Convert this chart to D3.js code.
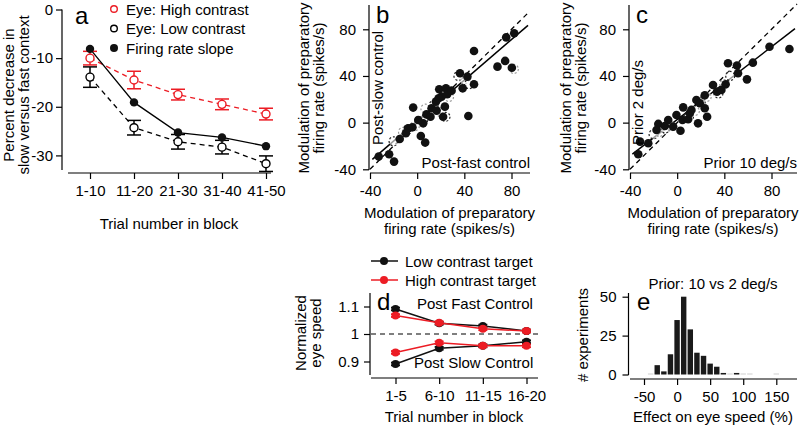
<!DOCTYPE html>
<html><head><meta charset="utf-8">
<script src="https://cdn.jsdelivr.net/npm/d3@7"></script>
<style>body{margin:0;background:#fff}svg{display:block}</style>
</head><body><svg id="c" width="800" height="428"></svg>
<script>
// ---------- DATA ----------
// Panel a
const aCats = ["1-10","11-20","21-30","31-40","41-50"];
const aHigh = [-10, -14.5, -17.5, -19.5, -21.5];
const aHighErr = [1.4, 1.8, 1.1, 1.1, 1.2];
const aLow = [-13.9, -24.3, -27.2, -28.3, -31.7];
const aLowErr = [2.1, 1.5, 1.5, 1.4, 1.6];
const aRate = [-8.1, -19.1, -25.3, -26.3, -28.1];
const aYTicks = [0, -10, -20, -30];
// Panel b
const bX = [-32.6,-23.8,-19.6,-14.8,-9.6,-4,-3.4,3.1,6.8,5.1,7.9,12.2,15.9,18.7,20.7,24.4,25.5,23.5,22,29.2,36.3,38.6,42.6,43.4,48.2,48.2,68.1,74.6,75.5,82.3,80.3,16.5,11.3,0.9,-7.7,18.2];
const bY = [-29.1,-27.1,-33.4,-14,-9.1,-4,12.9,-11.4,-17.1,-0.6,7.1,12.3,18,28.6,22.3,29.4,24.3,13.7,5,27.4,42.3,29.4,39.4,5.7,61.4,32.9,48,52.9,73.1,76.6,47.1,10.3,5.1,2.3,-4.9,20.9];
const bOpenX = [-20,-12,-8,-2,5,7,14,20,24,27,35,40,44,82];
const bOpenY = [-16,-8,-6,-3,2,12,15,9,5,22,40,37,33,46];
const bFit = [1.6, 0.87]; // intercept, slope
// Panel c
const cX = [-33,-31.5,-24.5,-16,-17.5,-10.4,-3.4,2.8,4.5,5.1,9.3,10.7,12.1,16.3,17.7,19.2,23.4,23.4,25.4,30.4,33.8,37.5,41.1,43.1,50.7,51.6,59.2,64.2,78.3,95.2,-0.6,-7.6];
const cY = [-27.1,-16.3,-17.7,-1.1,-6.3,-2.9,-3.4,-6.9,2.3,13.1,2.9,8,10.9,19.4,-0.6,16.6,12.3,23.4,5.1,32.3,26.6,28,32.9,50.9,48.9,42.3,37.1,51.4,65.1,63.1,6.6,2.3];
const cOpenX = [-20,-15,-10,-5,10,15,20,25,35,40,45];
const cOpenY = [-10,-8,-5,-3,5,10,18,22,25,33,40];
const cFit = [2.6, 0.78];
const scTicks = [-40, 0, 40, 80];
// Panel d
const dCats = ["1-5","6-10","11-15","16-20"];
const dLowFast = [1.091, 1.039, 1.029, 1.011];
const dHighFast = [1.067, 1.041, 1.019, 1.011];
const dLowSlow = [0.891, 0.948, 0.957, 0.972];
const dHighSlow = [0.933, 0.968, 0.957, 0.957];
const dErr = [0.005, 0.005, 0.005, 0.005];
const dYTicks = [0.9, 1, 1.1];
// Panel e
const eBins = [-40,-30,-20,-10,0,10,20,30,40,50,60,70,80,90,100,110,150];
const eCounts = [0,6,2,13,35,50,29,14,12,7,5,1,0,1,0,0,0];
const eXTicks = [-50, 0, 50, 100, 150];
const eYTicks = [0, 25, 50];

// ---------- DRAW ----------
const FONT = '"Liberation Sans", Arial, Helvetica, sans-serif';
const RED = "#ec1c24";
const svg = d3.select("#c").attr("font-family", FONT);
const fmt = d => String(d);

function leftAxis(scale, ticks, x, top, bottom, pad, f) {
  const g = svg.append("g").attr("transform", `translate(${x},0)`)
    .call(d3.axisLeft(scale).tickValues(ticks).tickSize(6).tickPadding(pad).tickFormat(f || fmt));
  g.select(".domain").remove();
  g.append("line").attr("y1", top).attr("y2", bottom).attr("stroke", "#000").attr("stroke-width", 1.2);
  g.attr("font-size", 15).attr("font-family", FONT);
  g.selectAll(".tick line").attr("stroke-width", 1.2);
  g.selectAll(".tick text").attr("fill", "#000");
  return g;
}
function bottomAxis(scale, ticks, y, left, right, pad, f) {
  const ax = d3.axisBottom(scale).tickSize(6).tickPadding(pad).tickFormat(f || fmt);
  if (ticks) ax.tickValues(ticks);
  const g = svg.append("g").attr("transform", `translate(0,${y})`).call(ax);
  g.select(".domain").remove();
  g.append("line").attr("x1", left).attr("x2", right).attr("stroke", "#000").attr("stroke-width", 1.2);
  g.attr("font-size", 15).attr("font-family", FONT);
  g.selectAll(".tick line").attr("stroke-width", 1.2);
  g.selectAll(".tick text").attr("fill", "#000");
  return g;
}
function txt(x, y, s, opts = {}) {
  const t = svg.append("text").attr("x", x).attr("y", y).text(s)
    .attr("font-size", opts.size || 15).attr("text-anchor", opts.anchor || "start").attr("fill", "#000");
  if (opts.rot) t.attr("transform", `rotate(-90,${x},${y})`);
  return t;
}
function errBars(g, xs, ys, es, yscale, cap, color, sw) {
  xs.forEach((x, i) => {
    const y1 = yscale(ys[i] + es[i]), y2 = yscale(ys[i] - es[i]);
    g.append("line").attr("x1", x).attr("x2", x).attr("y1", y1).attr("y2", y2).attr("stroke", color).attr("stroke-width", sw);
    g.append("line").attr("x1", x - cap).attr("x2", x + cap).attr("y1", y1).attr("y2", y1).attr("stroke", color).attr("stroke-width", sw);
    g.append("line").attr("x1", x - cap).attr("x2", x + cap).attr("y1", y2).attr("y2", y2).attr("stroke", color).attr("stroke-width", sw);
  });
}

// ===== Panel a =====
{
  const x = d3.scalePoint(aCats, [90, 266]);
  const y = d3.scaleLinear([-33, 0], [170, 9.5]);
  leftAxis(y, aYTicks, 62, 9.5, 170, 3);
  bottomAxis(x, null, 173, 68, 271, 6);
  const g = svg.append("g");
  const xs = aCats.map(c => x(c));
  const line = d3.line().x((d, i) => xs[i]).y(d => y(d));
  g.append("path").attr("d", line(aHigh)).attr("fill", "none").attr("stroke", RED).attr("stroke-width", 1.3).attr("stroke-dasharray", "5,4");
  g.append("path").attr("d", line(aLow)).attr("fill", "none").attr("stroke", "#000").attr("stroke-width", 1.3).attr("stroke-dasharray", "5,4");
  g.append("path").attr("d", line(aRate)).attr("fill", "none").attr("stroke", "#000").attr("stroke-width", 1.3);
  errBars(g, xs, aHigh, aHighErr, y, 7, RED, 1.5);
  errBars(g, xs, aLow, aLowErr, y, 7, "#000", 1.5);
  g.selectAll(".hi").data(aHigh).join("circle").attr("cx", (d, i) => xs[i]).attr("cy", d => y(d)).attr("r", 4)
    .attr("fill", "#fff").attr("stroke", RED).attr("stroke-width", 1.4);
  g.selectAll(".lo").data(aLow).join("circle").attr("cx", (d, i) => xs[i]).attr("cy", d => y(d)).attr("r", 4)
    .attr("fill", "#fff").attr("stroke", "#000").attr("stroke-width", 1.4);
  g.selectAll(".fr").data(aRate).join("circle").attr("cx", (d, i) => xs[i]).attr("cy", d => y(d)).attr("r", 4.2)
    .attr("fill", "#111");
  const lg = [["Eye: High contrast", "open", RED], ["Eye: Low contrast", "open", "#000"], ["Firing rate slope", "fill", "#111"]];
  lg.forEach((l, i) => {
    const yy = 9 + i * 19.5;
    svg.append("circle").attr("cx", 114).attr("cy", yy).attr("r", l[1] === "open" ? 3.3 : 4)
      .attr("fill", l[1] === "open" ? "#fff" : l[2]).attr("stroke", l[1] === "open" ? l[2] : "none").attr("stroke-width", 1.4);
    txt(126, yy + 5.5, l[0]);
  });
  txt(75, 24, "a", {size: 24});
  txt(14, 95, "Percent decrease in", {rot: true, anchor: "middle"});
  txt(29, 95, "slow versus fast context", {rot: true, anchor: "middle"});
  txt(169, 229, "Trial number in block", {anchor: "middle"});
}

// ===== Scatter panels b, c =====
function scatter(x0, px, py, ox, oy, fit, letter, vlab, hlab, ylx, xEnd) {
  const x = d3.scaleLinear([-40, 80], [x0 + 1, x0 + 142.5]);
  const y = d3.scaleLinear([-40, 80], [169.3, 29.3]);
  leftAxis(y, scTicks, x0, 5, 170, 7);
  bottomAxis(x, scTicks, 173, x0 + 1, xEnd, 6);
  const g = svg.append("g");
  g.append("line").attr("x1", x(-40)).attr("y1", y(-40)).attr("x2", x(x.invert(xEnd))).attr("y2", y(x.invert(xEnd)))
    .attr("stroke", "#000").attr("stroke-width", 1.3).attr("stroke-dasharray", "5,4");
  const fx0 = -38, fx1 = x.invert(xEnd - 2);
  g.append("line").attr("x1", x(fx0)).attr("y1", y(fit[0] + fit[1] * fx0)).attr("x2", x(fx1)).attr("y2", y(fit[0] + fit[1] * fx1))
    .attr("stroke", "#000").attr("stroke-width", 1.5);
  g.selectAll(".o").data(ox).join("circle").attr("cx", d => x(d)).attr("cy", (d, i) => y(oy[i])).attr("r", 4.5)
    .attr("fill", "#fff").attr("fill-opacity", 0.6).attr("stroke", (d, i) => i % 2 ? "#999" : "#222").attr("stroke-width", 1.2)
    .attr("stroke-dasharray", "2,2");
  g.selectAll(".p").data(px).join("circle").attr("cx", d => x(d)).attr("cy", (d, i) => y(py[i])).attr("r", 4.3).attr("fill", "#111");
  txt(x0 + 7, 23, letter, {size: 24});
  txt(x0 + 14, 145, vlab, {rot: true});
  txt(xEnd, 168, hlab, {anchor: "end"});
  txt(ylx, 88, "Modulation of preparatory", {rot: true, anchor: "middle"});
  txt(ylx + 15, 88, "firing rate (spikes/s)", {rot: true, anchor: "middle"});
  const cx = (x0 + xEnd) / 2;
  txt(cx, 218, "Modulation of preparatory", {anchor: "middle"});
  txt(cx, 234, "firing rate (spikes/s)", {anchor: "middle"});
}
scatter(369, bX, bY, bOpenX, bOpenY, bFit, "b", "Post-slow control", "Post-fast control", 309, 530);
scatter(629, cX, cY, cOpenX, cOpenY, cFit, "c", "Prior 2 deg/s", "Prior 10 deg/s", 571, 797);

// ===== Panel d =====
{
  const x = d3.scalePoint(dCats, [395.5, 526.5]);
  const y = d3.scaleLinear([0.9, 1.1], [361.5, 306.5]);
  leftAxis(y, dYTicks, 370, 293, 375, 5);
  bottomAxis(x, null, 378, 371, 538, 6);
  const g = svg.append("g");
  g.append("line").attr("x1", 371).attr("x2", 540).attr("y1", y(1)).attr("y2", y(1))
    .attr("stroke", "#000").attr("stroke-width", 1.2).attr("stroke-dasharray", "5,4");
  const xs = dCats.map(c => x(c));
  const line = d3.line().x((d, i) => xs[i]).y(d => y(d));
  const series = [[dLowFast, "#111"], [dLowSlow, "#111"], [dHighFast, RED], [dHighSlow, RED]];
  series.forEach(([s, col]) => {
    g.append("path").attr("d", line(s)).attr("fill", "none").attr("stroke", col).attr("stroke-width", 1.5);
    errBars(g, xs, s, dErr, y, 4.5, col, 1.8);
    g.selectAll(null).data(s).join("circle").attr("cx", (d, i) => xs[i]).attr("cy", d => y(d)).attr("r", 4).attr("fill", col);
  });
  [["Low contrast target", "#111", 261], ["High contrast target", RED, 280]].forEach(l => {
    svg.append("line").attr("x1", 371).attr("x2", 398).attr("y1", l[2]).attr("y2", l[2]).attr("stroke", l[1]).attr("stroke-width", 1.5);
    svg.append("circle").attr("cx", 384).attr("cy", l[2]).attr("r", 4).attr("fill", l[1]);
    txt(405, l[2] + 5.5, l[0]);
  });
  txt(377, 310, "d", {size: 24});
  txt(417, 309, "Post Fast Control");
  txt(414, 368, "Post Slow Control");
  txt(306, 333, "Normalized", {rot: true, anchor: "middle"});
  txt(321, 333, "eye speed", {rot: true, anchor: "middle"});
  txt(454, 422, "Trial number in block", {anchor: "middle"});
}

// ===== Panel e =====
{
  const x = d3.scaleLinear([-50, 150], [644, 776.3]);
  const y = d3.scaleLinear([0, 50], [374.5, 296.7]);
  leftAxis(y, eYTicks, 628.5, 293, 375, 6);
  bottomAxis(x, eXTicks, 379, 630, 797, 6);
  const g = svg.append("g");
  g.selectAll("rect").data(eBins).join("rect")
    .attr("x", d => x(d - 5) + 0.6).attr("width", d => x(d + 5) - x(d - 5) - 1.2)
    .attr("y", (d, i) => eCounts[i] > 0 ? y(eCounts[i]) : y(0) - 1)
    .attr("height", (d, i) => eCounts[i] > 0 ? y(0) - y(eCounts[i]) : 1)
    .attr("fill", (d, i) => eCounts[i] > 0 ? "#1a1a1a" : "#cfcfcf");
  txt(637, 310, "e", {size: 24});
  txt(713, 289, "Prior: 10 vs 2 deg/s", {anchor: "middle"});
  txt(588, 335, "# experiments", {rot: true, anchor: "middle"});
  txt(713, 422, "Effect on eye speed (%)", {anchor: "middle"});
}
</script></body></html>
